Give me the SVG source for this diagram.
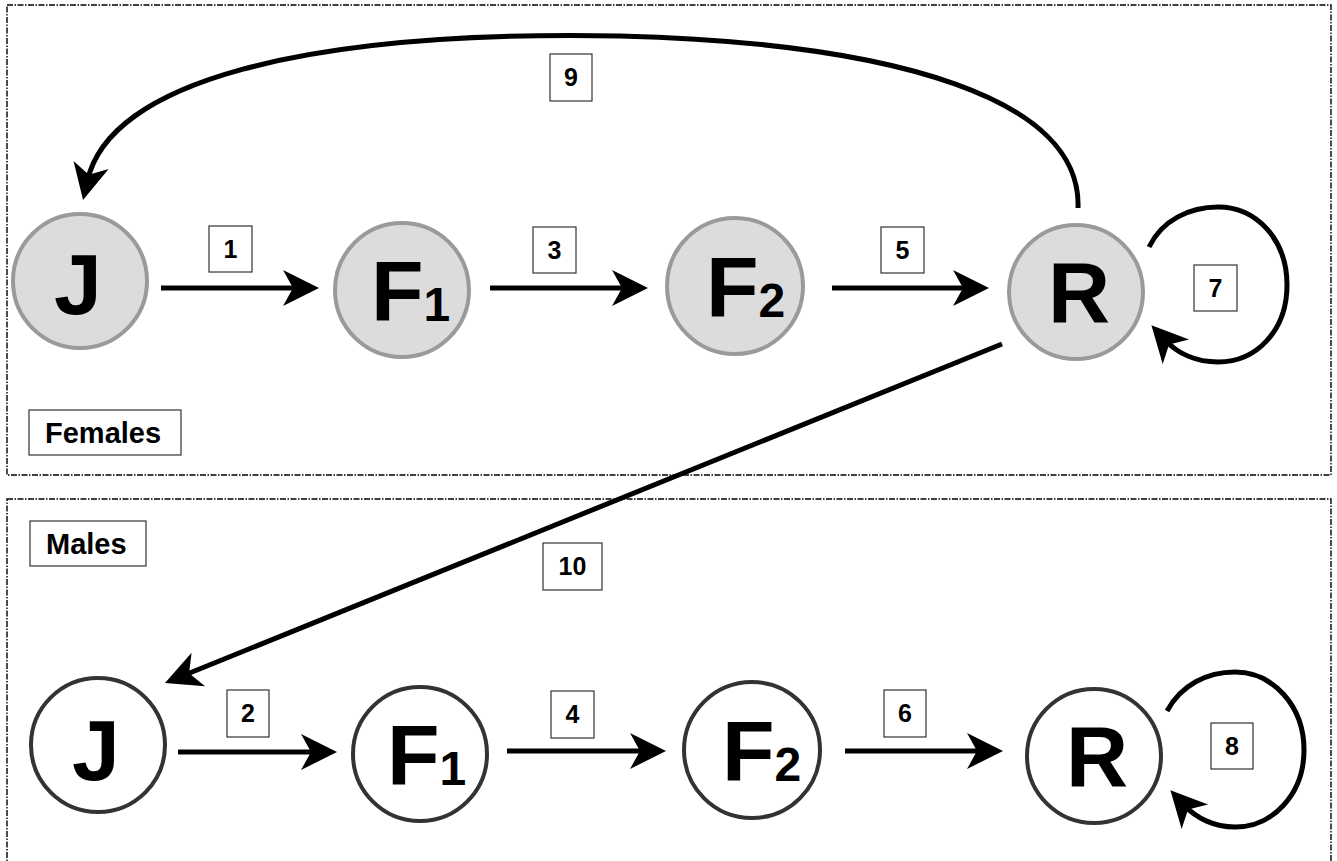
<svg xmlns="http://www.w3.org/2000/svg" width="1337" height="861" viewBox="0 0 1337 861">
<style>
.frame{fill:none;stroke:#000;stroke-width:1.4;stroke-dasharray:6,1.5,1.5,1.5}
.fem{fill:#dcdcdc;stroke:#9a9a9a;stroke-width:4}
.mal{fill:#fff;stroke:#333;stroke-width:4}
.big{font-family:"Liberation Sans",Arial,sans-serif;font-weight:bold;font-size:86px;fill:#000}
.sub{font-size:48px}
.lbl{fill:#fff;stroke:#333;stroke-width:1.2}
.num{font-family:"Liberation Sans",Arial,sans-serif;font-weight:bold;font-size:25px;fill:#000;text-anchor:middle}
.sex{font-family:"Liberation Sans",Arial,sans-serif;font-weight:bold;font-size:29px;fill:#000}
.edge{fill:none;stroke:#000;stroke-width:5;marker-end:url(#ah)}
</style>
<defs>
<marker id="ah" markerUnits="userSpaceOnUse" markerWidth="60" markerHeight="60" viewBox="-30 -30 60 60" refX="0" refY="0" orient="auto" overflow="visible">
<path d="M-16,-18 L20,0 L-16,18 L-6,0 Z" fill="#000"/>
</marker>
</defs>
<rect class="frame" x="7" y="5" width="1324" height="470"/>
<rect class="frame" x="7" y="499" width="1324" height="420"/>
<g id="connectors">
<path class="edge" d="M161,288 L299,288"/>
<path class="edge" d="M490,288 L628,288"/>
<path class="edge" d="M832,288 L969,288"/>
<path class="edge" d="M178,752 L317,752"/>
<path class="edge" d="M507,751 L646,751"/>
<path class="edge" d="M845,751 L983,751"/>
<path class="edge" d="M1078,208 C1082,100 900,43 620,36 C300,30 109.8,83 87.5,180.5"/>
<path class="edge" d="M1149,247 C1162,220 1190,207 1218,207 C1257,207 1287,240 1287,285 C1287,330 1257,362 1218,362 C1197,362 1178,354 1165,340"/>
<path class="edge" d="M1167,711 C1181,685 1207,672 1235,672 C1273,672 1304,706 1304,750 C1304,794 1273,827 1235,827 C1214,827 1196,818 1184,805"/>
<path class="edge" d="M1002,344 L183.5,675.5"/>
</g>
<g id="label-1"><rect class="lbl" x="209" y="226" width="43" height="46"/><text class="num" x="230.5" y="258">1</text></g>
<g id="label-3"><rect class="lbl" x="533" y="227" width="43" height="46"/><text class="num" x="554.5" y="259">3</text></g>
<g id="label-5"><rect class="lbl" x="881" y="227" width="43" height="46"/><text class="num" x="902.5" y="259">5</text></g>
<g id="label-7"><rect class="lbl" x="1194" y="265" width="43" height="46"/><text class="num" x="1215.5" y="297">7</text></g>
<g id="label-9"><rect class="lbl" x="550" y="54" width="42" height="47"/><text class="num" x="571" y="86">9</text></g>
<g id="label-10"><rect class="lbl" x="543" y="543" width="59" height="47"/><text class="num" x="572.5" y="575">10</text></g>
<g id="label-2"><rect class="lbl" x="227" y="690" width="42" height="47"/><text class="num" x="248" y="722">2</text></g>
<g id="label-4"><rect class="lbl" x="551" y="691" width="43" height="47"/><text class="num" x="572.5" y="723">4</text></g>
<g id="label-6"><rect class="lbl" x="884" y="690" width="42" height="47"/><text class="num" x="905" y="722">6</text></g>
<g id="label-8"><rect class="lbl" x="1211" y="723" width="42" height="46"/><text class="num" x="1232" y="755">8</text></g>
<g id="females-label"><rect class="lbl" x="29" y="410" width="152" height="45"/><text class="sex" x="45" y="443">Females</text></g>
<g id="males-label"><rect class="lbl" x="30" y="521" width="116" height="45"/><text class="sex" x="46" y="554">Males</text></g>
<g id="female-J"><circle class="fem" cx="80" cy="281" r="67"/><text class="big" x="78" y="314" text-anchor="middle">J</text></g>
<g id="female-F1"><circle class="fem" cx="402" cy="290" r="67"/><text class="big" x="371" y="321">F<tspan class="sub">1</tspan></text></g>
<g id="female-F2"><circle class="fem" cx="735" cy="286" r="68"/><text class="big" x="706" y="317">F<tspan class="sub">2</tspan></text></g>
<g id="female-R"><circle class="fem" cx="1076" cy="292" r="67"/><text class="big" x="1079" y="322" text-anchor="middle">R</text></g>
<g id="male-J"><circle class="mal" cx="98" cy="745" r="67"/><text class="big" x="96" y="780" text-anchor="middle">J</text></g>
<g id="male-F1"><circle class="mal" cx="420" cy="754" r="67"/><text class="big" x="387" y="785">F<tspan class="sub">1</tspan></text></g>
<g id="male-F2"><circle class="mal" cx="752" cy="750" r="68"/><text class="big" x="722" y="781">F<tspan class="sub">2</tspan></text></g>
<g id="male-R"><circle class="mal" cx="1094" cy="756" r="67"/><text class="big" x="1097" y="786" text-anchor="middle">R</text></g>
</svg>
